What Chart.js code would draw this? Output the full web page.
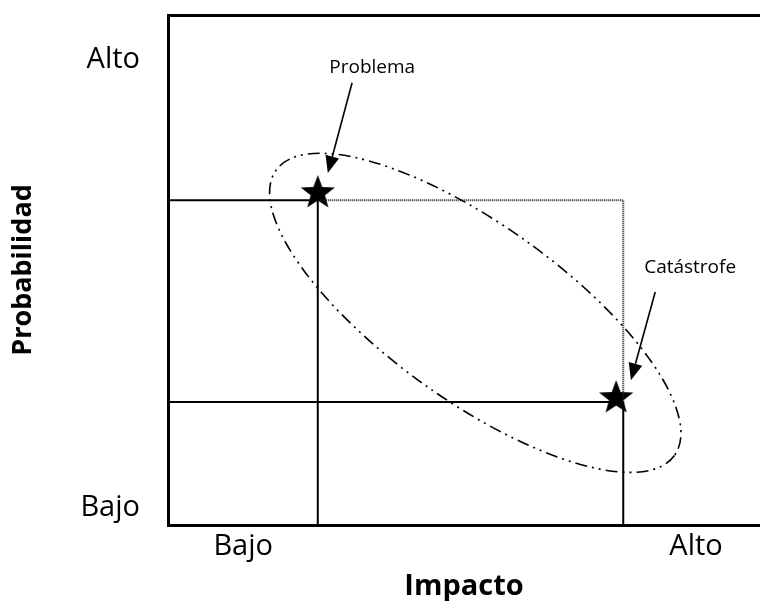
<!DOCTYPE html>
<html lang="es">
<head>
<meta charset="utf-8">
<title>Probabilidad vs Impacto</title>
<script src="https://cdn.jsdelivr.net/npm/chart.js@4.4.0/dist/chart.umd.min.js"></script>
<style>
  html, body { margin: 0; padding: 0; background: #fff; }
  #wrap { width: 760px; height: 601px; }
</style>
</head>
<body>
<div id="wrap"><canvas id="chart" width="760" height="601"></canvas></div>
<script>
// ---- datos ----
var xTickValues = [1.27, 8.92];
var xTickLabels = ['Bajo', 'Alto'];
var yTickValues = [0.33, 9.12];
var yTickLabels = ['Bajo', 'Alto'];

var problema   = { x: 2.53, y: 6.51 };
var catastrofe = { x: 7.57, y: 2.49 };

var problemaLineX   = 2.53;
var problemaLineY   = 6.37;
var catastrofeLineX = 7.69;
var catastrofeLineY = 2.41;

// anotaciones (coordenadas en unidades de datos)
var labelProblema   = { text: 'Problema',   x: 3.45, y: 8.96 };
var labelCatastrofe = { text: 'Catástrofe', x: 8.82, y: 5.04 };
var arrowProblema   = { from: { x: 3.11, y: 8.67 }, to: { x: 2.70, y: 6.90 } };
var arrowCatastrofe = { from: { x: 8.23, y: 4.57 }, to: { x: 7.82, y: 2.84 } };
var ellipseCenter   = { x: 5.19, y: 4.16 };

var FONT = '"Open Sans", "DejaVu Sans", sans-serif';

// estrella rellena de cinco puntas para pointStyle
function makeStar(r) {
    var c = document.createElement('canvas');
    c.width = c.height = r * 2 + 2;
    var g = c.getContext('2d');
    var cx = r + 1, cy = r + 1, inner = r * 0.42;
    g.beginPath();
    for (var i = 0; i < 10; i++) {
        var rad = (i % 2 === 0) ? r : inner;
        var a = -Math.PI / 2 + i * Math.PI / 5;
        g.lineTo(cx + rad * Math.cos(a), cy + rad * Math.sin(a));
    }
    g.closePath();
    g.fillStyle = '#000';
    g.fill();
    return c;
}
var starImg = makeStar(18);

// sin relleno extra de Chart.js alrededor de las escalas
function noPadding(s) {
    s.paddingTop = 0; s.paddingBottom = 0; s.paddingLeft = 0; s.paddingRight = 0;
}

/* ------------------------------------------------------------------
   Plugin: elipse, flechas y textos
------------------------------------------------------------------ */
var annotationsPlugin = {
    id: 'riskAnnotations',
    afterDatasetsDraw: function (chart) {
        var ctx = chart.ctx;
        var xs = chart.scales.x, ys = chart.scales.y;
        function px(p) { return { x: xs.getPixelForValue(p.x), y: ys.getPixelForValue(p.y) }; }

        ctx.save();

        // elipse punto-punto-raya
        var c = px(ellipseCenter);
        ctx.beginPath();
        ctx.ellipse(c.x, c.y, 245, 88, 35.6 * Math.PI / 180, 0, Math.PI * 2);
        ctx.setLineDash([12, 5, 2, 5, 2, 5]);
        ctx.lineWidth = 1.6;
        ctx.strokeStyle = '#000';
        ctx.stroke();
        ctx.setLineDash([]);

        // flechas
        [arrowProblema, arrowCatastrofe].forEach(function (a) {
            var f = px(a.from), t = px(a.to);
            var ang = Math.atan2(t.y - f.y, t.x - f.x);
            var len = 17, half = 7;
            var bx = t.x - len * Math.cos(ang), by = t.y - len * Math.sin(ang);
            ctx.beginPath();
            ctx.moveTo(f.x, f.y);
            ctx.lineTo(bx, by);
            ctx.lineWidth = 1.6;
            ctx.stroke();
            ctx.beginPath();
            ctx.moveTo(t.x, t.y);
            ctx.lineTo(bx + half * Math.sin(ang), by - half * Math.cos(ang));
            ctx.lineTo(bx - half * Math.sin(ang), by + half * Math.cos(ang));
            ctx.closePath();
            ctx.fillStyle = '#000';
            ctx.fill();
        });

        // textos
        ctx.font = '19px ' + FONT;
        ctx.fillStyle = '#000';
        ctx.textAlign = 'center';
        ctx.textBaseline = 'middle';
        [labelProblema, labelCatastrofe].forEach(function (l) {
            var p = px(l);
            ctx.fillText(l.text, p.x, p.y);
        });

        ctx.restore();
    }
};

var solid  = { borderColor: '#000', borderWidth: 2, showLine: true, pointRadius: 0, fill: false };
var dotted = { borderColor: '#222', borderWidth: 2, borderDash: [1, 1], showLine: true, pointRadius: 0, fill: false };

function line(style, pts) {
    return Object.assign({ data: pts }, style);
}

new Chart(document.getElementById('chart'), {
    type: 'scatter',
    data: {
        datasets: [
            line(solid, [{ x: 0, y: problemaLineY }, { x: problemaLineX, y: problemaLineY }]),
            line(solid, [{ x: problemaLineX, y: problemaLineY }, { x: problemaLineX, y: 0 }]),
            line(dotted, [{ x: problemaLineX, y: problemaLineY }, { x: catastrofeLineX, y: problemaLineY }, { x: catastrofeLineX, y: catastrofeLineY }]),
            line(solid, [{ x: 0, y: catastrofeLineY }, { x: catastrofeLineX, y: catastrofeLineY }]),
            line(solid, [{ x: catastrofeLineX, y: catastrofeLineY }, { x: catastrofeLineX, y: 0 }]),
            { data: [problema, catastrofe], pointStyle: starImg, pointRadius: 18, showLine: false }
        ]
    },
    options: {
        responsive: false,
        animation: false,
        devicePixelRatio: 1,
        layout: { autoPadding: false, padding: { top: 15, right: 0, left: 0, bottom: 0 } },
        plugins: { legend: { display: false }, tooltip: { enabled: false } },
        scales: {
            x: {
                type: 'linear', min: 0, max: 10,
                grid: { display: false, drawTicks: false },
                border: { display: true, color: '#000', width: 3 },
                afterBuildTicks: function (s) { s.ticks = xTickValues.map(function (v) { return { value: v }; }); },
                afterFit: function (s) { s.height = 76; noPadding(s); },
                ticks: {
                    autoSkip: false, maxRotation: 0, padding: 4, color: '#000',
                    font: { family: FONT, size: 29 },
                    callback: function (v, i) { return xTickLabels[i]; }
                },
                title: {
                    display: true, text: 'Impacto', color: '#000',
                    font: { family: FONT, size: 29, weight: 'bold', lineHeight: 1 },
                    padding: { top: 0, bottom: 0 }
                }
            },
            xTop: {
                type: 'linear', position: 'top', min: 0, max: 10,
                grid: { display: false, drawTicks: false },
                border: { display: true, color: '#000', width: 3 },
                ticks: { display: false },
                afterFit: function (s) { s.height = 0; noPadding(s); }
            },
            y: {
                type: 'linear', min: 0, max: 10,
                grid: { display: false, drawTicks: false },
                border: { display: true, color: '#000', width: 3 },
                afterBuildTicks: function (s) { s.ticks = yTickValues.map(function (v) { return { value: v }; }); },
                afterFit: function (s) { s.width = 168; noPadding(s); },
                ticks: {
                    autoSkip: false, padding: 28, color: '#000',
                    font: { family: FONT, size: 29 },
                    callback: function (v, i) { return yTickLabels[i]; }
                },
                title: {
                    display: true, text: 'Probabilidad', color: '#000',
                    font: { family: FONT, size: 27, weight: 'bold' },
                    padding: { top: 7, bottom: 0 }
                }
            }
        }
    },
    plugins: [annotationsPlugin]
});
</script>
</body>
</html>
